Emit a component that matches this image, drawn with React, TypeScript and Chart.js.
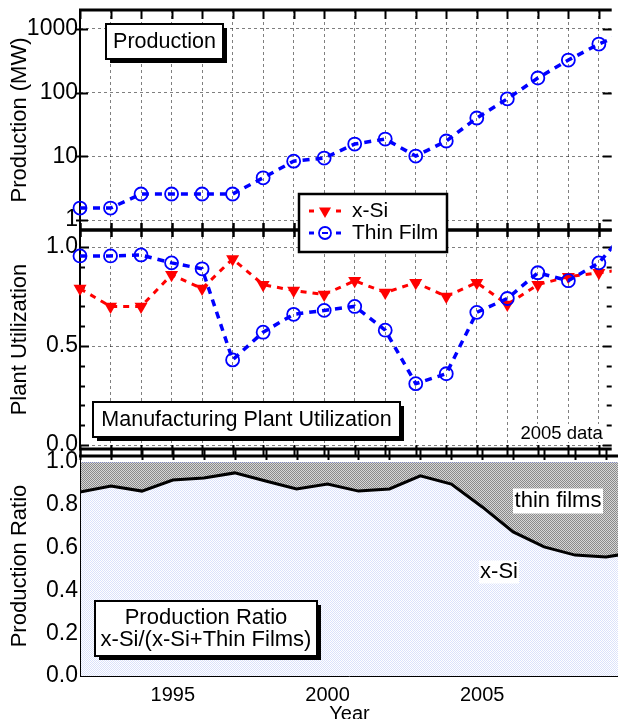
import React, { useEffect, useRef } from "react";
import { Chart, registerables } from "chart.js";
Chart.register(...registerables);

// ---------------- data ----------------
const years = [1992, 1993, 1994, 1995, 1996, 1997, 1998, 1999, 2000, 2001, 2002, 2003, 2004, 2005, 2006, 2007, 2008, 2009, 2010];
const thinFilmProductionMW = [1.54, 1.54, 2.56, 2.56, 2.56, 2.56, 4.6, 8.4, 9.4, 15.6, 18.7, 10.1, 17.4, 40, 80, 170, 325, 580, 930];
const xSiUtilization = [0.79, 0.70, 0.70, 0.86, 0.79, 0.94, 0.81, 0.78, 0.76, 0.83, 0.77, 0.82, 0.75, 0.82, 0.71, 0.81, 0.85, 0.87, 0.89];
const thinFilmUtilization = [0.955, 0.955, 0.96, 0.92, 0.89, 0.43, 0.57, 0.66, 0.68, 0.70, 0.58, 0.31, 0.36, 0.67, 0.74, 0.87, 0.83, 0.92, 1.10];
const xSiProductionRatio = [0.86, 0.888, 0.864, 0.916, 0.925, 0.949, 0.911, 0.874, 0.897, 0.864, 0.874, 0.935, 0.897, 0.79, 0.673, 0.603, 0.565, 0.556, 0.58];

const productionTicks = [1, 10, 100, 1000];
const utilizationTicks = [0, 0.5, 1.0];
const utilizationMinorTicks = [0, 0.1, 0.2, 0.3, 0.4, 0.5, 0.6, 0.7, 0.8, 0.9, 1.0];
const ratioTicks = [0, 0.2, 0.4, 0.6, 0.8, 1.0];
const yearTickLabels = [1995, 2000, 2005];

const seriesNames = ["x-Si", "Thin Film"];

// ---------------- styling ----------------
const FONT = "'Liberation Sans', Arial, Helvetica, sans-serif";
const X_MIN = 1992;
const X_MAX = 2009.42;
const W = 620;
const H = 719;
const BLUE = "#0000ff";
const RED = "#ff0000";
const GRID = "rgba(0,0,0,0.5)";

function pts(vals: number[]) {
  return years.map((yr, i) => ({ x: yr, y: vals[i] }));
}

function seg(ctx: CanvasRenderingContext2D, x1: number, y1: number, x2: number, y2: number, w: number) {
  ctx.lineWidth = w;
  ctx.beginPath();
  ctx.moveTo(x1, y1);
  ctx.lineTo(x2, y2);
  ctx.stroke();
}

function shadowBox(ctx: CanvasRenderingContext2D, x: number, y: number, w: number, h: number) {
  ctx.fillStyle = "#000";
  ctx.fillRect(x + 4, y + 4, w, h);
  ctx.fillStyle = "#fff";
  ctx.fillRect(x, y, w, h);
  ctx.strokeStyle = "#000";
  ctx.lineWidth = 2;
  ctx.strokeRect(x, y, w, h);
}

function labelWithBg(ctx: CanvasRenderingContext2D, text: string, cx: number, cy: number, size: number, bw: number, bh: number) {
  ctx.fillStyle = "#fff";
  ctx.fillRect(cx - bw / 2, cy - bh / 2, bw, bh);
  ctx.fillStyle = "#000";
  ctx.font = `${size}px ${FONT}`;
  ctx.textAlign = "center";
  ctx.textBaseline = "middle";
  ctx.fillText(text, cx, cy);
}

function visibleYears() {
  return years.filter((y) => y <= X_MAX);
}

function xScale(showLabels: boolean, gridOn: boolean, axisHeight: number) {
  return {
    type: "linear",
    min: X_MIN,
    max: X_MAX,
    afterBuildTicks: (s: any) => {
      s.ticks = visibleYears().map((v) => ({ value: v }));
    },
    afterFit: (s: any) => {
      s.height = axisHeight;
      s.paddingLeft = 0;
      s.paddingRight = 0;
    },
    ticks: {
      display: showLabels,
      autoSkip: false,
      maxRotation: 0,
      padding: 7,
      color: "#000",
      font: { family: FONT, size: 20 },
      callback: (v: number) => (yearTickLabels.includes(v) ? String(v) : ""),
    },
    grid: { display: gridOn, color: GRID, lineWidth: 1, drawTicks: false },
    border: { display: false, dash: [3, 3] },
    title: showLabels
      ? { display: true, text: "Year", color: "#000", font: { family: FONT, size: 20, lineHeight: 1.2 }, padding: { top: 0, bottom: 14 } }
      : { display: false },
  };
}

function yScaleBase(title: string, tickVals: number[], fmt: (v: number) => string, gridOn: boolean) {
  return {
    afterBuildTicks: (s: any) => {
      s.ticks = tickVals.map((v) => ({ value: v }));
    },
    afterFit: (s: any) => {
      s.width = 80;
      s.paddingTop = 0;
      s.paddingBottom = 0;
    },
    ticks: {
      autoSkip: false,
      padding: 2,
      color: "#000",
      font: { family: FONT, size: 23 },
      callback: (v: number) => fmt(v),
    },
    grid: { display: gridOn, color: GRID, lineWidth: 1, drawTicks: false },
    border: { display: false, dash: [3, 3] },
    title: { display: true, text: title, color: "#000", font: { family: FONT, size: 22, lineHeight: 1.2 }, padding: { top: 7, bottom: 0 } },
  };
}

const baseOptions = {
  animation: false,
  responsive: false,
  events: [],
  plugins: { legend: { display: false }, tooltip: { enabled: false } },
};

const blueLine = {
  borderColor: BLUE,
  borderWidth: 3.5,
  borderDash: [7, 6],
  pointStyle: "circle",
  pointRadius: 6.5,
  pointBorderWidth: 1.8,
  pointBorderColor: BLUE,
  pointBackgroundColor: "rgba(0,0,0,0)",
  tension: 0,
  fill: false,
  clip: { left: 12, top: 0, right: 0, bottom: 0 },
};

const redLine = {
  borderColor: RED,
  borderWidth: 3,
  borderDash: [6, 6],
  pointStyle: "triangle",
  rotation: 180,
  pointRadius: 7.5,
  pointBorderWidth: 0,
  pointBackgroundColor: RED,
  pointBorderColor: RED,
  tension: 0,
  fill: false,
  clip: { left: 12, top: 0, right: 0, bottom: 0 },
};

function makePattern(a: string, b: string) {
  const c = document.createElement("canvas");
  c.width = 2;
  c.height = 2;
  const g = c.getContext("2d")!;
  g.fillStyle = b;
  g.fillRect(0, 0, 2, 2);
  g.fillStyle = a;
  g.fillRect(0, 0, 1, 1);
  g.fillRect(1, 1, 1, 1);
  return g.createPattern(c, "repeat")!;
}

export default function App() {
  const r1 = useRef<HTMLCanvasElement>(null);
  const r2 = useRef<HTMLCanvasElement>(null);
  const r3 = useRef<HTMLCanvasElement>(null);

  useEffect(() => {
    // ---------- top panel: production ----------
    const topPlugin = {
      id: "topDecor",
      beforeDatasetsDraw(chart: any) {
        const { ctx, chartArea: a, scales } = chart;
        const x = scales.x, y = scales.y;
        ctx.save();
        ctx.strokeStyle = "#000";
        ctx.setLineDash([]);
        seg(ctx, a.left, a.top, a.left, a.bottom, 2);
        seg(ctx, a.left - 1, a.top, a.right, a.top, 3);
        seg(ctx, a.left - 1, a.bottom, a.right, a.bottom, 3);
        visibleYears().forEach((v) => {
          const px = Math.round(x.getPixelForValue(v)) + 0.5;
          seg(ctx, px, a.top, px, a.top + 9, 2);
          seg(ctx, px, a.bottom - 7, px, a.bottom + 7, 2);
        });
        productionTicks.forEach((v) => {
          const py = Math.round(y.getPixelForValue(v)) + 0.5;
          seg(ctx, a.left - 4, py, a.left + 8, py, 2);
          seg(ctx, a.right - 9, py, a.right, py, 2);
        });
        ctx.restore();
      },
      afterDraw(chart: any) {
        const { ctx, chartArea: a } = chart;
        ctx.save();
        shadowBox(ctx, a.left + 26, a.top + 14, 117, 35);
        ctx.fillStyle = "#000";
        ctx.font = `21.5px ${FONT}`;
        ctx.textAlign = "center";
        ctx.textBaseline = "middle";
        ctx.fillText("Production", a.left + 26 + 58.5, a.top + 14 + 18);
        ctx.restore();
      },
    };

    const c1 = new Chart(r1.current!, {
      type: "line",
      data: {
        datasets: [{ label: "Thin Film", data: pts(thinFilmProductionMW), ...blueLine } as any],
      },
      options: {
        ...baseOptions,
        layout: { padding: { top: 10, left: 0, right: 1, bottom: H - 230 } },
        scales: {
          x: xScale(false, true, 0),
          y: {
            type: "logarithmic",
            min: 0.697,
            max: 1987,
            ...yScaleBase("Production (MW)", productionTicks, (v) => String(v), true),
          },
        },
      } as any,
      plugins: [topPlugin],
    } as any);

    // ---------- middle panel: utilization ----------
    const midPlugin = {
      id: "midDecor",
      beforeDatasetsDraw(chart: any) {
        const { ctx, chartArea: a, scales } = chart;
        const x = scales.x, y = scales.y;
        ctx.save();
        ctx.strokeStyle = "#000";
        ctx.setLineDash([]);
        seg(ctx, a.left, a.top, a.left, a.bottom, 2);
        seg(ctx, a.left - 1, a.top, a.right, a.top, 3);
        seg(ctx, a.left - 1, a.bottom, a.right, a.bottom, 3);
        visibleYears().forEach((v) => {
          const px = Math.round(x.getPixelForValue(v)) + 0.5;
          seg(ctx, px, a.top - 7, px, a.top + 7, 2);
          seg(ctx, px, a.bottom - 4, px, a.bottom + 8, 2);
        });
        utilizationMinorTicks.forEach((v) => {
          const py = Math.round(y.getPixelForValue(v)) + 0.5;
          const major = utilizationTicks.some((t) => Math.abs(t - v) < 1e-9);
          const len = major ? 9 : 5;
          seg(ctx, a.left, py, a.left + len, py, 2);
          seg(ctx, a.right - len, py, a.right, py, 2);
        });
        ctx.restore();
      },
      afterDraw(chart: any) {
        const { ctx, chartArea: a } = chart;
        ctx.save();
        // "2005 data" note
        ctx.fillStyle = "#fff";
        ctx.fillRect(a.right - 95, a.bottom - 25, 88, 18);
        ctx.fillStyle = "#000";
        ctx.font = `18.5px ${FONT}`;
        ctx.textAlign = "right";
        ctx.textBaseline = "middle";
        ctx.fillText("2005 data", a.right - 9, a.bottom - 15);

        // panel title box
        shadowBox(ctx, a.left + 13, a.top + 172, 307, 35);
        ctx.fillStyle = "#000";
        ctx.font = `21.5px ${FONT}`;
        ctx.textAlign = "center";
        ctx.textBaseline = "middle";
        ctx.fillText("Manufacturing Plant Utilization", a.left + 13 + 153.5, a.top + 172 + 18);

        // legend (overlapping the panel boundary)
        const lx = 299, ly = 194, lw = 148, lh = 58;
        ctx.fillStyle = "#fff";
        ctx.fillRect(lx, ly, lw, lh);
        ctx.strokeStyle = "#000";
        ctx.lineWidth = 2.5;
        ctx.strokeRect(lx, ly, lw, lh);
        const rows = [
          { name: seriesNames[0], color: RED, cy: ly + 17, tri: true },
          { name: seriesNames[1], color: BLUE, cy: ly + 39, tri: false },
        ];
        rows.forEach((r) => {
          const mx = lx + 26;
          ctx.strokeStyle = r.color;
          ctx.fillStyle = r.color;
          ctx.setLineDash([]);
          seg(ctx, mx - 16, r.cy, mx - 11, r.cy, 3);
          seg(ctx, mx + 11, r.cy, mx + 16, r.cy, 3);
          if (r.tri) {
            const rr = 7;
            ctx.beginPath();
            ctx.moveTo(mx, r.cy + rr);
            ctx.lineTo(mx - rr * 0.866, r.cy - rr * 0.5);
            ctx.lineTo(mx + rr * 0.866, r.cy - rr * 0.5);
            ctx.closePath();
            ctx.fill();
          } else {
            ctx.lineWidth = 1.8;
            ctx.beginPath();
            ctx.arc(mx, r.cy, 6, 0, Math.PI * 2);
            ctx.stroke();
            seg(ctx, mx - 3, r.cy, mx + 3, r.cy, 2);
          }
          ctx.fillStyle = "#000";
          ctx.font = `21px ${FONT}`;
          ctx.textAlign = "left";
          ctx.textBaseline = "middle";
          ctx.fillText(r.name, lx + 53, r.cy);
        });
        ctx.restore();
      },
    };

    const c2 = new Chart(r2.current!, {
      type: "line",
      data: {
        datasets: [
          { label: seriesNames[1], data: pts(thinFilmUtilization), ...blueLine } as any,
          { label: seriesNames[0], data: pts(xSiUtilization), ...redLine } as any,
        ],
      },
      options: {
        ...baseOptions,
        layout: { padding: { top: 230, left: 0, right: 1, bottom: H - 449 } },
        scales: {
          x: xScale(false, true, 0),
          y: {
            type: "linear",
            min: -0.02,
            max: 1.086,
            ...yScaleBase("Plant Utilization", utilizationTicks, (v) => v.toFixed(1), true),
          },
        },
      } as any,
      plugins: [midPlugin],
    } as any);

    // ---------- bottom panel: production ratio ----------
    const grayPat = makePattern("#8a8a8a", "#d6d6d6");
    const bluePat = makePattern("#dbe2fb", "#ffffff");
    const H3 = 740;

    const botPlugin = {
      id: "botDecor",
      afterDatasetsDraw(chart: any) {
        const { ctx, chartArea: a, scales } = chart;
        const x = scales.x, y = scales.y;
        ctx.save();
        ctx.strokeStyle = "#8088c0";
        ctx.setLineDash([1, 1]);
        const p1 = Math.round(y.getPixelForValue(1)) + 0.5;
        seg(ctx, a.left, p1, a.right, p1, 1);
        ctx.setLineDash([]);
        ctx.strokeStyle = "#000";
        seg(ctx, a.left - 1, a.top, a.right, a.top, 3);
        seg(ctx, a.left + 0.5, a.top, a.left + 0.5, a.bottom, 1);
        seg(ctx, a.left, a.bottom + 0.5, a.right, a.bottom + 0.5, 1);
        visibleYears().forEach((v) => {
          const px = Math.round(x.getPixelForValue(v)) + 0.5;
          seg(ctx, px, a.top - 8, px, a.top + 4, 2);
        });
        ctx.restore();
      },
      afterDraw(chart: any) {
        const { ctx, chartArea: a } = chart;
        ctx.save();
        labelWithBg(ctx, "thin films", 558, 501, 22, 90, 25);
        labelWithBg(ctx, "x-Si", 499, 572, 22, 40, 23);
        shadowBox(ctx, a.left + 15, a.top + 145, 222, 55);
        ctx.fillStyle = "#000";
        ctx.font = `22px ${FONT}`;
        ctx.textAlign = "center";
        ctx.textBaseline = "middle";
        ctx.fillText("Production Ratio", a.left + 15 + 111, a.top + 145 + 17);
        ctx.fillText("x-Si/(x-Si+Thin Films)", a.left + 15 + 111, a.top + 145 + 39);
        ctx.restore();
      },
    };

    const c3 = new Chart(r3.current!, {
      type: "line",
      data: {
        datasets: [
          {
            label: "x-Si share",
            data: pts(xSiProductionRatio),
            borderColor: "#000",
            borderWidth: 3,
            pointRadius: 0,
            tension: 0,
            fill: "origin",
            backgroundColor: bluePat,
            clip: 0,
          } as any,
          {
            label: "thin film share",
            data: pts(xSiProductionRatio),
            borderColor: "rgba(0,0,0,0)",
            borderWidth: 0,
            pointRadius: 0,
            tension: 0,
            fill: { target: { value: 1 }, above: grayPat, below: grayPat },
            backgroundColor: grayPat,
            clip: 0,
          } as any,
        ],
      },
      options: {
        ...baseOptions,
        layout: { padding: { top: 456, left: 0, right: 1, bottom: 0 } },
        scales: {
          x: xScale(true, false, H3 - 676),
          y: {
            type: "linear",
            min: 0,
            max: 1.028,
            ...yScaleBase("Production Ratio", ratioTicks, (v) => v.toFixed(1), false),
          },
        },
      } as any,
      plugins: [botPlugin],
    } as any);

    return () => {
      c1.destroy();
      c2.destroy();
      c3.destroy();
    };
  }, []);

  return (
    <div style={{ position: "absolute", left: 0, top: 0, width: 618, height: 719, overflow: "hidden", background: "#fff" }}>
      <canvas ref={r1} width={W} height={H} style={{ position: "absolute", left: 0, top: 0, zIndex: 1 }} />
      <canvas ref={r3} width={W} height={740} style={{ position: "absolute", left: 0, top: 0, zIndex: 2 }} />
      <canvas ref={r2} width={W} height={H} style={{ position: "absolute", left: 0, top: 0, zIndex: 3 }} />
    </div>
  );
}
